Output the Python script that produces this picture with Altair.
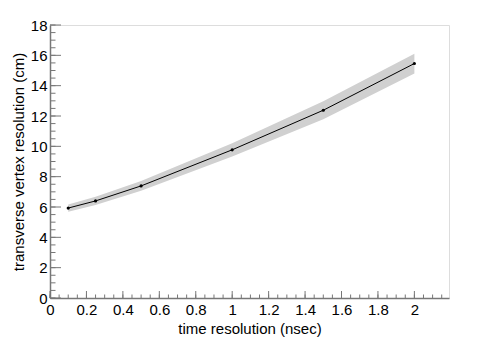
import altair as alt
import pandas as pd

# data
time_res = [0.1, 0.25, 0.5, 1.0, 1.5, 2.0]
vertex_res = [5.93, 6.40, 7.39, 9.77, 12.38, 15.46]
band_err = [0.24, 0.27, 0.32, 0.44, 0.60, 0.65]

x_major = [0, 0.2, 0.4, 0.6, 0.8, 1.0, 1.2, 1.4, 1.6, 1.8, 2.0]
x_minor = [round(i * 0.05, 2) for i in range(0, 44)]
y_major = [0, 2, 4, 6, 8, 10, 12, 14, 16, 18]
y_minor = [i * 0.5 for i in range(0, 37)]

W, H = 399, 273
FONT = "Liberation Sans"
GRAY = "#777777"

df = pd.DataFrame({
    "t": time_res,
    "r": vertex_res,
    "lo": [v - e for v, e in zip(vertex_res, band_err)],
    "hi": [v + e for v, e in zip(vertex_res, band_err)],
})

xs = alt.Scale(domain=[0, 2.19], nice=False, zero=False)
ys = alt.Scale(domain=[0, 18], nice=False, zero=False)

x_axis = alt.Axis(
    values=x_major, format="~g", tickSize=0, domainColor=GRAY, domainWidth=1.5,
    labelFont=FONT, labelFontSize=15, labelColor="black", labelPadding=4,
    labelOverlap=False, labelFlush=False,
    grid=False, title="time resolution (nsec)", titleFont=FONT,
    titleFontSize=15, titleFontWeight="normal", titleColor="black",
    titleX=W / 2, titleY=30, titleAnchor="middle", titleBaseline="middle",
)
y_axis = alt.Axis(
    values=y_major, format="~g", tickSize=0, domainColor=GRAY, domainWidth=1.5,
    labelFont=FONT, labelFontSize=15, labelColor="black", labelPadding=3,
    labelOverlap=False, labelFlush=False,
    grid=False, title="transverse vertex resolution (cm)", titleFont=FONT,
    titleFontSize=15, titleFontWeight="normal", titleColor="black",
    titleX=-32, titleY=H / 2, titleAngle=-90, titleBaseline="middle",
)

band = alt.Chart(df).mark_area(color="#d0d0d0", opacity=1).encode(
    x=alt.X("t:Q", scale=xs, axis=x_axis),
    y=alt.Y("lo:Q", scale=ys, axis=y_axis),
    y2="hi:Q",
)
line = alt.Chart(df).mark_line(color="black", strokeWidth=1).encode(
    x=alt.X("t:Q", scale=xs, axis=x_axis), y=alt.Y("r:Q", scale=ys, axis=y_axis)
)
pts = alt.Chart(df).mark_point(color="black", filled=True, size=10, opacity=1).encode(
    x=alt.X("t:Q", scale=xs, axis=x_axis), y=alt.Y("r:Q", scale=ys, axis=y_axis)
)

xmaj = alt.Chart(pd.DataFrame({"v": x_major})).mark_rule(color=GRAY, strokeWidth=1).encode(
    x=alt.X("v:Q", scale=xs, axis=x_axis), y=alt.value(H), y2=alt.value(H - 7)
)
xmin = alt.Chart(pd.DataFrame({"v": x_minor})).mark_rule(color=GRAY, strokeWidth=1).encode(
    x=alt.X("v:Q", scale=xs, axis=x_axis), y=alt.value(H), y2=alt.value(H - 3.5)
)
ymaj = alt.Chart(pd.DataFrame({"v": y_major})).mark_rule(color=GRAY, strokeWidth=1).encode(
    y=alt.Y("v:Q", scale=ys, axis=y_axis), x=alt.value(0), x2=alt.value(11)
)
ymin = alt.Chart(pd.DataFrame({"v": y_minor})).mark_rule(color=GRAY, strokeWidth=1).encode(
    y=alt.Y("v:Q", scale=ys, axis=y_axis), x=alt.value(0), x2=alt.value(5.5)
)

chart = alt.layer(band, line, pts, xmaj, xmin, ymaj, ymin).properties(
    width=W, height=H,
    autosize=alt.AutoSizeParams(type="none"),
    padding={"left": 42, "top": 17, "right": 35, "bottom": 44},
).configure_view(stroke=GRAY, strokeWidth=1.5).configure_axis(
    labelOverlap=False, labelFlush=False
).configure(background="white")

chart.save("out.html", embed_options={"renderer": "svg", "actions": False})
